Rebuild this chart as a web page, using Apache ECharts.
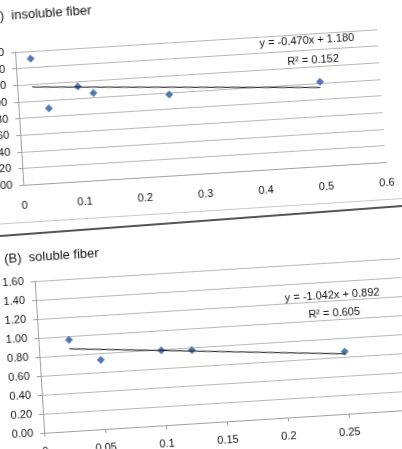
<!DOCTYPE html>
<html>
<head>
<meta charset="utf-8">
<script src="https://cdn.jsdelivr.net/npm/echarts@6/dist/echarts.min.js"></script>
<style>
  html, body { margin: 0; padding: 0; background: #fff; overflow: hidden; width: 402px; height: 449px; }
  .chart { position: absolute; transform-origin: 0 0; transform: rotate(-3.6deg); }
  #chartA { left: -48px; top: 6px; width: 470px; height: 220px; border-bottom: 1px solid #c8c8c8; }
  #chartB { left: -28px; top: 240px; width: 470px; height: 240px; }
  #edge { position: absolute; left: 0; top: 235px; width: 420px; height: 1.5px; background: #555;
          transform-origin: 0 0; transform: rotate(-4.27deg); }
</style>
</head>
<body>
<div id="chartA" class="chart"></div>
<div id="edge"></div>
<div id="chartB" class="chart"></div>
<script>
// (A) insoluble fiber
var insolubleX = [0.025, 0.05, 0.1, 0.125, 0.25, 0.5];
var insolubleY = [1.51, 0.90, 1.14, 1.05, 0.975, 1.015];
var insolubleFit = [-0.470, 1.180];   // slope, intercept
var insolubleR2 = 0.152;

// (B) soluble fiber
var solubleX = [0.025, 0.05, 0.1, 0.125, 0.25];
var solubleY = [0.96, 0.73, 0.79, 0.77, 0.655];
var solubleFit = [-1.042, 0.892];
var solubleR2 = 0.605;

var titles = ["(A)  insoluble fiber", "(B)  soluble fiber"];
var yRange = [0, 1.6, 0.2];
var xRangeA = [0, 0.6, 0.1];
var xRangeB = [0, 0.3, 0.05];

var font = "Liberation Sans, Arial, sans-serif";

function fitText(fit) {
  var b = fit[1];
  return "y = " + fit[0].toFixed(3) + "x " + (b < 0 ? "- " : "+ ") + Math.abs(b).toFixed(3);
}

function makeChart(id, cfg) {
  var chart = echarts.init(document.getElementById(id));
  var pts = cfg.xs.map(function (x, i) { return [x, cfg.ys[i]]; });
  var xmin = Math.min.apply(null, cfg.xs), xmax = Math.max.apply(null, cfg.xs);
  var fit = cfg.fit;
  var line = [[xmin, fit[0] * xmin + fit[1]], [xmax, fit[0] * xmax + fit[1]]];
  chart.setOption({
    animation: false,
    title: {
      text: cfg.title, left: cfg.titlePos[0], top: cfg.titlePos[1],
      textStyle: { fontFamily: font, fontSize: 13, fontWeight: "normal", color: "#111" }
    },
    grid: cfg.grid,
    xAxis: {
      type: "value", min: cfg.xr[0], max: cfg.xr[1], interval: cfg.xr[2],
      splitLine: { show: false },
      axisLine: { show: true, onZero: false, lineStyle: { color: "#a0a0a0" } },
      axisTick: { show: cfg.xTicks, length: 4, lineStyle: { color: "#a0a0a0" } },
      axisLabel: {
        margin: cfg.xLabelMargin, color: "#111", fontFamily: font, fontSize: 11,
        formatter: function (v) { return String(+v.toFixed(2)); }
      }
    },
    yAxis: {
      type: "value", min: yRange[0], max: yRange[1], interval: yRange[2],
      axisLine: { show: true, lineStyle: { color: "#a0a0a0" } },
      axisTick: { show: true, length: 4, lineStyle: { color: "#a0a0a0" } },
      splitLine: { lineStyle: { color: "#b8b8b8" } },
      axisLabel: {
        margin: 11, color: "#111", fontFamily: font, fontSize: 11,
        formatter: function (v) { return v.toFixed(2); }
      }
    },
    graphic: [
      { type: "text", x: cfg.eqPos[0], y: cfg.eqPos[1],
        style: { text: fitText(fit), fill: "#111", font: "11px " + font, textAlign: "center", textVerticalAlign: "middle" } },
      { type: "text", x: cfg.r2Pos[0], y: cfg.r2Pos[1],
        style: { text: "R² = " + cfg.r2.toFixed(3), fill: "#111", font: "11px " + font, textAlign: "center", textVerticalAlign: "middle" } }
    ],
    series: [
      {
        type: "line", data: line, symbol: "none", silent: true,
        lineStyle: { color: "#111", width: 1 }
      },
      {
        type: "scatter", data: pts, symbol: "diamond", symbolSize: 8,
        itemStyle: { color: "#255a9b" }
      }
    ]
  });
}

makeChart("chartA", {
  title: titles[0], titlePos: [29, 2],
  xs: insolubleX, ys: insolubleY, fit: insolubleFit, r2: insolubleR2,
  xr: xRangeA, xTicks: false, xLabelMargin: 15,
  grid: { left: 60, top: 50, width: 363, height: 133 },
  eqPos: [352, 57], r2Pos: [357, 77]
});

makeChart("chartB", {
  title: titles[1], titlePos: [26, 10],
  xs: solubleX, ys: solubleY, fit: solubleFit, r2: solubleR2,
  xr: xRangeB, xTicks: true, xLabelMargin: 13,
  grid: { left: 60, top: 45, width: 366, height: 152 },
  eqPos: [356, 78], r2Pos: [357, 96]
});
</script>
</body>
</html>
